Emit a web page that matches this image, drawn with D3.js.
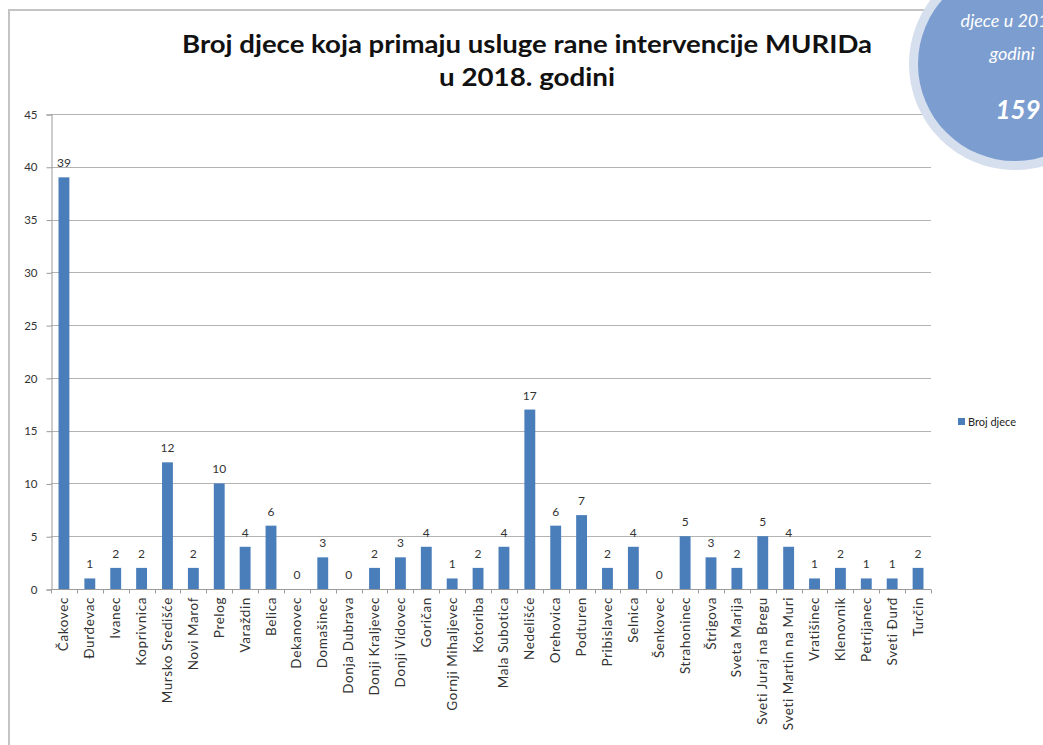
<!DOCTYPE html>
<html>
<head>
<meta charset="utf-8">
<script src="https://cdn.jsdelivr.net/npm/d3@7"></script>
<style>
  body { margin: 0; background: #fff; }
  svg { display: block; font-family: "Lato", "Open Sans", sans-serif; }
</style>
</head>
<body>
<svg id="chart" width="1043" height="745"></svg>
<script>
var places = ["Čakovec", "Đurđevac", "Ivanec", "Koprivnica", "Mursko Središće", "Novi Marof",
  "Prelog", "Varaždin", "Belica", "Dekanovec", "Domašinec", "Donja Dubrava", "Donji Kraljevec",
  "Donji Vidovec", "Goričan", "Gornji Mihaljevec", "Kotoriba", "Mala Subotica", "Nedelišće",
  "Orehovica", "Podturen", "Pribislavec", "Selnica", "Šenkovec", "Strahoninec", "Štrigova",
  "Sveta Marija", "Sveti Juraj na Bregu", "Sveti Martin na Muri", "Vratišinec", "Klenovnik",
  "Petrijanec", "Sveti Đurđ", "Turčin"];
var children = [39, 1, 2, 2, 12, 2, 10, 4, 6, 0, 3, 0, 2, 3, 4, 1, 2, 4, 17, 6, 7, 2, 4, 0, 5, 3, 2, 5, 4, 1, 2, 1, 1, 2];
var y_ticks = [0, 5, 10, 15, 20, 25, 30, 35, 40, 45];
var title_lines = ["Broj djece koja primaju usluge rane intervencije MURIDa", "u 2018. godini"];
var series_name = "Broj djece";
var bubble_lines = ["djece u 2018.", "godini"];
var total_children = d3.sum(children);

var svg = d3.select("#chart");
var bar_color = "#4a7ebb";

// chart frame (only top and left visible in the crop)
svg.append("path")
  .attr("d", "M9,745 V10 H1043")
  .attr("fill", "none")
  .attr("stroke", "#c4c4c4")
  .attr("stroke-width", 2);

var plot = { left: 51, right: 931, top: 114, bottom: 589 };

var x = d3.scaleBand().domain(places).range([plot.left, plot.right]).paddingInner(0.58).paddingOuter(0.29);
var y = d3.scaleLinear().domain([0, 45]).range([plot.bottom, plot.top]);

// gridlines
svg.append("g").selectAll("line").data(y_ticks.filter(function (d) { return d > 0; }))
  .enter().append("line")
  .attr("x1", plot.left).attr("x2", plot.right)
  .attr("y1", function (d) { return Math.round(y(d)) + 0.5; })
  .attr("y2", function (d) { return Math.round(y(d)) + 0.5; })
  .attr("stroke", "#b3b3b3").attr("stroke-width", 1);

// y axis
var y_axis = svg.append("g")
  .attr("transform", "translate(" + (plot.left + 0.5) + ",0.5)")
  .call(d3.axisLeft(y).tickValues(y_ticks).tickSize(5).tickPadding(9));
y_axis.select(".domain").attr("stroke", "#9a9a9a");
y_axis.selectAll(".tick line").attr("stroke", "#9a9a9a");
y_axis.selectAll("text").attr("fill", "#333").style("font-size", "11.5px").style("font-family", "Lato, sans-serif");

// bars
svg.append("g").selectAll("rect").data(places)
  .enter().append("rect")
  .attr("x", function (d) { return x(d); })
  .attr("width", x.bandwidth())
  .attr("y", function (d, i) { return y(children[i]); })
  .attr("height", function (d, i) { return y(0) - y(children[i]); })
  .attr("fill", bar_color);

// x axis
var x_axis_g = svg.append("g").attr("transform", "translate(0," + (plot.bottom + 0.5) + ")");
x_axis_g.append("line").attr("x1", plot.left).attr("x2", plot.right).attr("stroke", "#9a9a9a");
var step = x.step();
x_axis_g.selectAll(".xt").data(d3.range(places.length + 1)).enter().append("line")
  .attr("class", "xt")
  .attr("x1", function (i) { return Math.round(plot.left + i * step) + 0.5; })
  .attr("x2", function (i) { return Math.round(plot.left + i * step) + 0.5; })
  .attr("y1", 0).attr("y2", 4)
  .attr("stroke", "#9a9a9a");

svg.append("g").selectAll("text").data(places).enter().append("text")
  .attr("transform", function (d) {
    return "translate(" + (x(d) + x.bandwidth() / 2 + 4.5) + "," + (plot.bottom + 8) + ") rotate(-90)";
  })
  .attr("text-anchor", "end")
  .attr("fill", "#333")
  .style("font-size", "13.5px")
  .style("letter-spacing", "0.6px")
  .text(function (d) { return d; });

// data labels
svg.append("g").selectAll("text").data(places).enter().append("text")
  .attr("x", function (d) { return x(d) + x.bandwidth() / 2; })
  .attr("y", function (d, i) { return y(children[i]) - 10; })
  .attr("text-anchor", "middle")
  .attr("fill", "#333")
  .style("font-size", "12px")
  .text(function (d, i) { return children[i]; });

// title
var title_widths = [690, 176];
svg.append("g").selectAll("text").data(title_lines).enter().append("text")
  .attr("x", 527)
  .attr("y", function (d, i) { return 53 + i * 33; })
  .attr("text-anchor", "middle")
  .attr("fill", "#111")
  .attr("textLength", function (d, i) { return title_widths[i]; })
  .attr("lengthAdjust", "spacingAndGlyphs")
  .style("font-size", "24px")
  .style("font-weight", "bold")
  .text(function (d) { return d; });

// legend
var legend = svg.append("g").attr("transform", "translate(958,418)");
legend.append("rect").attr("width", 7).attr("height", 7).attr("fill", bar_color);
legend.append("text").attr("x", 10).attr("y", 7.5).attr("fill", "#222")
  .style("font-size", "11px").text(series_name);

// total bubble in top right corner
var bubble = svg.append("g");
bubble.append("circle").attr("cx", 1015).attr("cy", 64).attr("r", 106).attr("fill", "#d5dfee");
bubble.append("circle").attr("cx", 1015).attr("cy", 64).attr("r", 97).attr("fill", "#7b9dcf");
bubble.selectAll(".bl").data(bubble_lines).enter().append("text")
  .attr("class", "bl")
  .attr("x", 1012)
  .attr("y", function (d, i) { return 27 + i * 33; })
  .attr("text-anchor", "middle")
  .attr("fill", "#fff")
  .style("font-size", "18px")
  .style("font-style", "italic")
  .text(function (d) { return d; });
bubble.append("text")
  .attr("x", 1018).attr("y", 119)
  .attr("text-anchor", "middle")
  .attr("fill", "#fff")
  .style("font-size", "26px")
  .style("font-weight", "bold")
  .style("font-style", "italic")
  .text(total_children);
</script>
</body>
</html>
